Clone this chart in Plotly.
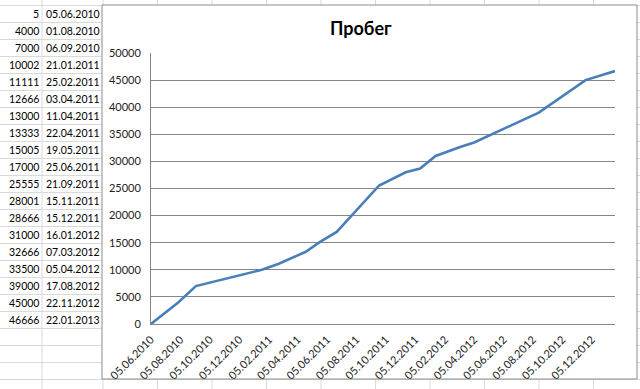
import plotly.graph_objects as go
from datetime import datetime

# ---- data ----
mileage = [5, 4000, 7000, 10002, 11111, 12666, 13000, 13333, 15005, 17000,
           25555, 28001, 28666, 31000, 32666, 33500, 39000, 45000, 46666]
dates_txt = ["05.06.2010", "01.08.2010", "06.09.2010", "21.01.2011", "25.02.2011",
             "03.04.2011", "11.04.2011", "22.04.2011", "19.05.2011", "25.06.2011",
             "21.09.2011", "15.11.2011", "15.12.2011", "16.01.2012", "07.03.2012",
             "05.04.2012", "17.08.2012", "22.11.2012", "22.01.2013"]
tick_labels = ["05.06.2010", "05.08.2010", "05.10.2010", "05.12.2010", "05.02.2011",
               "05.04.2011", "05.06.2011", "05.08.2011", "05.10.2011", "05.12.2011",
               "05.02.2012", "05.04.2012", "05.06.2012", "05.08.2012", "05.10.2012",
               "05.12.2012"]
title = "Пробег"

dates = [datetime.strptime(d, "%d.%m.%Y") for d in dates_txt]
tick_dates = [datetime.strptime(d, "%d.%m.%Y") for d in tick_labels]

W, H = 640, 389
def px(x): return x / W
def py(y): return 1 - y / H

FONT = "Lato, 'Open Sans', sans-serif"

fig = go.Figure()
fig.add_trace(go.Scatter(
    x=dates, y=mileage, mode="lines",
    line=dict(color="#4A7EBB", width=2.6),
    hoverinfo="x+y", showlegend=False))

shapes = []
grid_col = "#D9D9D9"
# spreadsheet row lines
y = 5.5
while y < H:
    shapes.append(dict(type="line", xref="paper", yref="paper", layer="below",
                       x0=0, x1=1, y0=py(y), y1=py(y),
                       line=dict(color=grid_col, width=1)))
    y += 17
# spreadsheet column lines
cols = [42, 103]
c = 157.5
while c < W:
    cols.append(c)
    c += 54.5
for c in cols:
    shapes.append(dict(type="line", xref="paper", yref="paper", layer="below",
                       x0=px(c), x1=px(c), y0=0, y1=1,
                       line=dict(color=grid_col, width=1)))
# chart area
shapes.append(dict(type="rect", xref="paper", yref="paper", layer="below",
                   x0=px(102), x1=px(637), y0=py(379), y1=py(5),
                   fillcolor="white", line=dict(color="#8C8C8C", width=1)))

annotations = []
for i, (m, d) in enumerate(zip(mileage, dates_txt)):
    yc = 14 + 17 * i
    annotations.append(dict(xref="paper", yref="paper", x=px(40.5), y=py(yc),
                            text=str(m), showarrow=False, xanchor="right",
                            yanchor="middle", font=dict(family=FONT, size=10.5, color="black")))
    annotations.append(dict(xref="paper", yref="paper", x=px(43.5), y=py(yc),
                            text=d, showarrow=False, xanchor="left",
                            yanchor="middle", font=dict(family=FONT, size=10.5, color="black")))
annotations.append(dict(xref="paper", yref="paper", x=px(361), y=py(28),
                        text="<b>" + title + "</b>", showarrow=False,
                        xanchor="center", yanchor="middle",
                        font=dict(family=FONT, size=18, color="black")))

fig.update_layout(
    template="none",
    width=W, height=H,
    margin=dict(l=0, r=0, t=0, b=0, pad=0, autoexpand=False),
    paper_bgcolor="white", plot_bgcolor="rgba(0,0,0,0)",
    shapes=shapes, annotations=annotations,
    xaxis=dict(domain=[px(151), px(615)], type="date", automargin=False,
               range=[dates[0], dates[-1]],
               tickvals=tick_dates, ticktext=tick_labels, tickangle=-45,
               ticklabelstandoff=4,
               showgrid=False, zeroline=False,
               showline=True, linecolor="#868686", linewidth=1,
               ticks="", tickfont=dict(family=FONT, size=11, color="#222")),
    yaxis=dict(domain=[py(324), py(53)], range=[0, 50000], dtick=5000,
               automargin=False, ticklabelstandoff=7,
               showgrid=True, gridcolor="#868686", gridwidth=1,
               zeroline=False, showline=True, linecolor="#868686", linewidth=1,
               ticks="", tickformat="d",
               tickfont=dict(family=FONT, size=11, color="#222")),
)

fig.write_html("out.html", config={"displayModeBar": False},
               post_script="document.body.style.margin='0';document.body.style.overflow='hidden';")
